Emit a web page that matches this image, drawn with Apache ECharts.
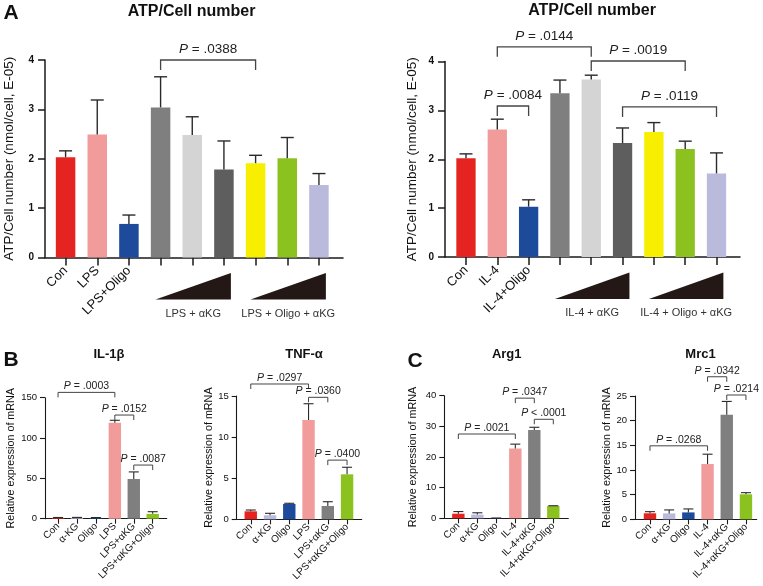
<!DOCTYPE html>
<html><head><meta charset="utf-8">
<script src="https://cdn.jsdelivr.net/npm/echarts@6/dist/echarts.min.js"></script>
<style>html,body{margin:0;padding:0;background:#fff}#c{width:763px;height:586px}</style>
</head><body><div id="c"></div>
<script>
const FONT = 'Arial, "Liberation Sans", Helvetica, sans-serif';

// ---------- Panel A left ----------
const catsAL = ['Con', 'LPS', 'LPS+Oligo', '', '', '', '', '', ''];
const meanAL = [2.03, 2.49, 0.68, 3.04, 2.48, 1.78, 1.91, 2.01, 1.47];
const errAL  = [2.16, 3.19, 0.86, 3.66, 2.85, 2.36, 2.07, 2.43, 1.70];
const sigAL  = [[3, 6, 4.0, '= .0388']];
const wedgeAL = [[3, 5, 'LPS + αKG'], [6, 8, 'LPS + Oligo + αKG']];

// ---------- Panel A right ----------
const catsAR = ['Con', 'IL-4', 'IL-4+Oligo', '', '', '', '', '', ''];
const meanAR = [2.02, 2.61, 1.03, 3.35, 3.63, 2.33, 2.56, 2.21, 1.71];
const errAR  = [2.11, 2.82, 1.17, 3.62, 3.72, 2.64, 2.75, 2.37, 2.13];
const sigAR  = [[1, 4, 4.30, '= .0144'], [4, 7, 4.01, '= .0019'], [1, 2, 3.09, '= .0084'], [5, 8, 3.07, '= .0119']];
const wedgeAR = [[3, 5, 'IL-4 + αKG'], [6, 8, 'IL-4 + Oligo + αKG']];

// ---------- Panel B: IL-1β ----------
const catsB = ['Con', 'α-KG', 'Oligo', 'LPS', 'LPS+αKG', 'LPS+αKG+Oligo'];
const meanIL1B = [1.0, 1.0, 1.0, 119, 49.2, 6.0];
const errIL1B  = [1.5, 1.6, 1.4, 122, 58, 8.7];
const sigIL1B  = [[0, 3, 156.6, '= .0003'], [3, 4, 128.5, '= .0152'], [4, 5, 66.5, '= .0087']];

// ---------- Panel B: TNF-α ----------
const meanTNF = [0.97, 0.49, 1.86, 12.08, 1.62, 5.47];
const errTNF  = [1.13, 0.73, 1.95, 14.06, 2.14, 6.33];
const sigTNF  = [[0, 3, 16.46, '= .0297'], [3, 4, 14.84, '= .0360'], [4, 5, 7.2, '= .0400']];

// ---------- Panel C: Arg1 ----------
const catsC = ['Con', 'α-KG', 'Oligo', 'IL-4', 'IL-4+αKG', 'IL-4+αKG+Oligo'];
const meanARG = [1.5, 1.2, 0.1, 22.8, 28.8, 4.0];
const errARG  = [2.2, 1.8, 0.1, 24.2, 29.7, 4.1];
const sigARG  = [[0, 3, 27.5, '= .0021'], [3, 4, 39.2, '= .0347'], [4, 5, 32.3, '< .0001']];

// ---------- Panel C: Mrc1 ----------
const meanMRC = [1.22, 1.2, 1.4, 11.2, 21.2, 5.07];
const errMRC  = [1.55, 1.9, 2.1, 13.2, 23.9, 5.4];
const sigMRC  = [[0, 3, 14.9, '= .0268'], [3, 4, 28.9, '= .0342'], [4, 5, 25.2, '= .0214']];

const colorsA = ['#e52421', '#f19b9b', '#1d4a9b', '#7f7f7f', '#d4d4d4', '#5e5e5e', '#f8ee00', '#8cc220', '#babadd'];
const colorsB = ['#e52421', '#babadd', '#1d4a9b', '#f19b9b', '#7f7f7f', '#8cc220'];

const grids = [], xAxes = [], yAxes = [], series = [];

function addPanel(p) {
  const gi = grids.length;
  grids.push({ left: p.grid[0], top: p.grid[1], width: p.grid[2], height: p.grid[3], containLabel: false, outerBoundsMode: 'none' });
  const idx = p.means.map((_, i) => i);
  const lineC = '#1a1a1a';
  const aw = p.big ? 1.5 : 1.1;
  xAxes.push({
    type: 'value', gridIndex: gi, min: p.xmin, max: p.xmax,
    splitLine: { show: false },
    axisLine: { show: true, onZero: false, lineStyle: { color: lineC, width: aw } },
    axisTick: { show: true, customValues: idx, length: p.big ? 8 : 5, lineStyle: { color: lineC, width: aw } },
    axisLabel: {
      customValues: idx.filter(i => p.cats[i] !== ''),
      formatter: v => p.cats[Math.round(v)] || '',
      rotate: 45, fontSize: p.big ? 13 : 10, color: '#111', fontFamily: FONT, margin: p.big ? 11 : 6
    }
  });
  yAxes.push({
    type: 'value', gridIndex: gi, min: 0, max: p.ymax, interval: p.yint,
    splitLine: { show: false },
    axisLine: { show: true, onZero: false, lineStyle: { color: lineC, width: aw } },
    axisTick: { show: true, length: p.big ? 7 : 5, lineStyle: { color: lineC, width: aw } },
    axisLabel: { fontSize: p.big ? 10 : 9.5, fontWeight: p.big ? 'bold' : 'normal', color: '#111', fontFamily: FONT, margin: p.big ? 11 : 8 },
    name: p.yname, nameLocation: 'middle', nameGap: p.nameGap,
    nameTextStyle: { fontSize: p.big ? 13.5 : 10.75, color: '#111', fontFamily: FONT }
  });
  series.push({
    type: 'bar', xAxisIndex: gi, yAxisIndex: gi, barWidth: p.barWidth, silent: true,
    data: p.means.map((v, i) => ({ value: [i, v], itemStyle: { color: p.colors[i] } }))
  });
  const cap = p.big ? 6.5 : 5;
  const lw = p.big ? 1.4 : 1.1;
  series.push({
    type: 'custom', xAxisIndex: gi, yAxisIndex: gi, silent: true, z: 5, clip: false,
    data: p.means.map((v, i) => [i, v, p.errs[i]]),
    renderItem: (params, api) => {
      const a = api.coord([api.value(0), api.value(1)]);
      const b = api.coord([api.value(0), api.value(2)]);
      const st = { stroke: '#2a2a2a', lineWidth: lw };
      return { type: 'group', children: [
        { type: 'line', shape: { x1: a[0], y1: a[1], x2: b[0], y2: b[1] }, style: st },
        { type: 'line', shape: { x1: b[0] - cap, y1: b[1], x2: b[0] + cap, y2: b[1] }, style: st }
      ] };
    }
  });
  const drop = p.big ? 10 : 5;
  const lab = p.big ? 11 : 6;
  const fs = p.big ? 13.5 : 10.5;
  series.push({
    type: 'custom', xAxisIndex: gi, yAxisIndex: gi, silent: true, z: 6, clip: false,
    data: p.sig.map(s => [s[0], s[1], s[2]]),
    renderItem: (params, api) => {
      const a = api.coord([api.value(0), api.value(2)]);
      const b = api.coord([api.value(1), api.value(2)]);
      const txt = p.sig[params.dataIndex][3];
      return { type: 'group', children: [
        { type: 'polyline', shape: { points: [[a[0], a[1] + drop], [a[0], a[1]], [b[0], b[1]], [b[0], b[1] + drop]] },
          style: { stroke: '#444', lineWidth: p.big ? 1.3 : 1, fill: null } },
        { type: 'text', x: (a[0] + b[0]) / 2, y: a[1] - lab,
          style: { text: '{i|P} ' + txt, align: 'center', verticalAlign: 'middle', fill: '#222', fontSize: fs, fontFamily: FONT,
            rich: { i: { fontStyle: 'italic', fontSize: fs, fontFamily: FONT, fill: '#222' } } } }
      ] };
    }
  });
  if (p.wedges) {
    series.push({
      type: 'custom', xAxisIndex: gi, yAxisIndex: gi, silent: true, z: 6, clip: false,
      data: p.wedges.map(w => [w[0] - 0.16, w[1] + 0.22]),
      renderItem: (params, api) => {
        const a = api.coord([api.value(0), 0]);
        const b = api.coord([api.value(1), 0]);
        const y0 = a[1];
        return { type: 'group', children: [
          { type: 'polygon', shape: { points: [[a[0], y0 + 42], [b[0], y0 + 42], [b[0], y0 + 15.5]] }, style: { fill: '#231815' } },
          { type: 'text', x: (a[0] + b[0]) / 2, y: y0 + 56,
            style: { text: p.wedges[params.dataIndex][2], align: 'center', verticalAlign: 'middle', fill: '#333', fontSize: 11, fontFamily: FONT } }
        ] };
      }
    });
  }
}

addPanel({ big: true, grid: [45, 60, 298, 197.5], xmin: -0.65, xmax: 8.76, ymax: 4, yint: 1, barWidth: 19.5,
  cats: catsAL, means: meanAL, errs: errAL, sig: sigAL, wedges: wedgeAL, colors: colorsA,
  yname: 'ATP/Cell number (nmol/cell, E-05)', nameGap: 29 });
addPanel({ big: true, grid: [445, 61.5, 295, 195.5], xmin: -0.67, xmax: 8.75, ymax: 4, yint: 1, barWidth: 19.3,
  cats: catsAR, means: meanAR, errs: errAR, sig: sigAR, wedges: wedgeAR, colors: colorsA,
  yname: 'ATP/Cell number (nmol/cell, E-05)', nameGap: 26 });
addPanel({ big: false, grid: [45, 397.7, 121.7, 121], xmin: -0.69, xmax: 5.74, ymax: 150, yint: 50, barWidth: 12.4,
  cats: catsB, means: meanIL1B, errs: errIL1B, sig: sigIL1B, colors: colorsB,
  yname: 'Relative expression of mRNA', nameGap: 28 });
addPanel({ big: false, grid: [236.7, 396, 125, 123.3], xmin: -0.73, xmax: 5.76, ymax: 15, yint: 5, barWidth: 12.4,
  cats: catsB, means: meanTNF, errs: errTNF, sig: sigTNF, colors: colorsB,
  yname: 'Relative expression of mRNA', nameGap: 19.5 });
addPanel({ big: false, grid: [444.3, 395.7, 124, 122.6], xmin: -0.74, xmax: 5.79, ymax: 40, yint: 10, barWidth: 12.4,
  cats: catsC, means: meanARG, errs: errARG, sig: sigARG, colors: colorsB,
  yname: 'Relative expression of mRNA', nameGap: 25.5 });
addPanel({ big: false, grid: [635, 396, 121.7, 123.3], xmin: -0.78, xmax: 5.56, ymax: 25, yint: 5, barWidth: 12.4,
  cats: catsC, means: meanMRC, errs: errMRC, sig: sigMRC, colors: colorsB,
  yname: 'Relative expression of mRNA', nameGap: 20.5 });

function txt(text, x, y, size, weight) {
  return { type: 'text', x: x, y: y, silent: true,
    style: { text: text, align: 'center', verticalAlign: 'middle', fontSize: size, fontWeight: weight || 'bold', fontFamily: FONT, fill: '#111' } };
}

const chart = echarts.init(document.getElementById('c'), null, { renderer: 'canvas' });
chart.setOption({
  animation: false,
  backgroundColor: '#fff',
  grid: grids, xAxis: xAxes, yAxis: yAxes, series: series,
  graphic: [
    txt('A', 11, 13, 21),
    txt('ATP/Cell number', 191.5, 12, 16),
    txt('ATP/Cell number', 592, 11, 16),
    txt('B', 11, 360, 21),
    txt('IL-1β', 109, 354, 13),
    txt('TNF-α', 304, 354, 13),
    txt('C', 415, 361, 21),
    txt('Arg1', 506.7, 354, 13),
    txt('Mrc1', 700.5, 354, 13)
  ]
});
</script></body></html>
